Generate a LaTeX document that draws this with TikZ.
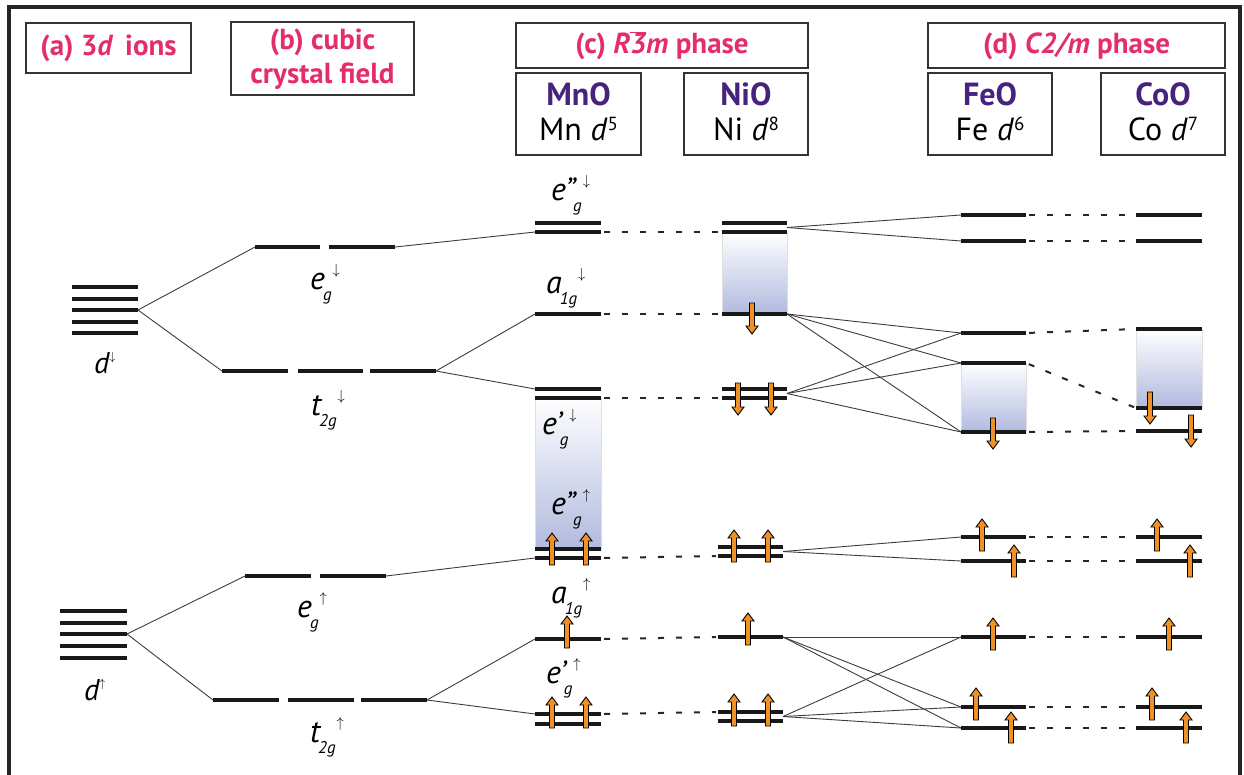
\documentclass[tikz,border=0pt]{standalone}
\usepackage{fontspec}
\setmainfont{PT Sans}
\definecolor{hdr}{RGB}{228,45,110}
\definecolor{cmp}{RGB}{70,35,125}
\definecolor{spin}{RGB}{240,145,40}
\definecolor{shd}{RGB}{176,186,222}
\definecolor{connc}{RGB}{60,60,60}
\tikzset{
  lev/.style={line width=4pt, draw=black!90},
  conn/.style={line width=0.9pt, draw=connc},
  dsh/.style={line width=2pt, draw=black!85, dash pattern=on 6pt off 12pt, shorten <=3pt, shorten >=2pt},
  hbox/.style={draw=black!80, line width=1.6pt},
  arr/.style={fill=spin, draw=black, line width=0.9pt, line join=miter},
  shadebox/.style={top color=white, bottom color=shd, draw=gray!25, line width=0.6pt},
  hdrtxt/.style={font=\fontsize{29}{34}\selectfont\bfseries, text=hdr, inner sep=0pt},
  cmptxt/.style={font=\fontsize{32}{32}\selectfont\bfseries, text=cmp, inner sep=0pt, anchor=base},
  subtxt/.style={font=\fontsize{32}{32}\selectfont, inner sep=0pt, anchor=base},
  lbl/.style={inner sep=0pt, anchor=base west},
}
\newcommand{\spinU}[3]{\filldraw[arr] ({#1-2.5},#2) -- ({#1-2.5},{#3+8}) -- ({#1-6},{#3+8}) -- (#1,#3) -- ({#1+6},{#3+8}) -- ({#1+2.5},{#3+8}) -- ({#1+2.5},#2) -- cycle;}
\newcommand{\spinD}[3]{\filldraw[arr] ({#1-2.5},#2) -- ({#1-2.5},{#3-8}) -- ({#1-6},{#3-8}) -- (#1,#3) -- ({#1+6},{#3-8}) -- ({#1+2.5},{#3-8}) -- ({#1+2.5},#2) -- cycle;}
\newcommand{\lv}[4]{\draw[lev] (#1,#3) coordinate (#4-L) -- (#2,#3) coordinate (#4-R);}
\newcommand{\orb}[3]{\fontsize{32}{32}\selectfont\itshape #1\kern-2pt\raisebox{-11pt}{\fontsize{17}{17}\selectfont #2}\kern1pt\raisebox{15pt}{\fontsize{15}{15}\selectfont$#3$}}
\newcommand{\dlab}[1]{\fontsize{30}{30}\selectfont\itshape d\raisebox{13pt}{\fontsize{12}{12}\selectfont$#1$}}
\newcommand{\sups}[1]{\raisebox{10pt}{\fontsize{19}{19}\selectfont #1}}
\begin{document}
\begin{tikzpicture}[x=1pt,y=-1pt]
\useasboundingbox (0,0) rectangle (1244,774);
% frame
\draw[line width=4pt, draw=black!85] (9,780) -- (9,7) -- (1240,7) -- (1240,780);

% header boxes
\draw[hbox] (26,23) rectangle (191,73);
\draw[hbox] (231,22) rectangle (414,95);
\draw[hbox] (516,23) rectangle (808,68);
\draw[hbox] (516,73) rectangle (641,155);
\draw[hbox] (684,73) rectangle (808,155);
\draw[hbox] (928,23) rectangle (1225,68);
\draw[hbox] (928,73) rectangle (1052,155);
\draw[hbox] (1101,73) rectangle (1225,155);

\node[hdrtxt] (tA) at (108.5,48) {(a) 3\textit{d}\hspace{0.15em} ions};
\node[hdrtxt, align=center] (tB) at (322.5,59) {(b) cubic\\crystal field};
\node[hdrtxt] (tC) at (662,46) {(c) \textit{R}$\overline{\mbox{\itshape 3}}$\textit{m} phase};
\node[hdrtxt] (tD) at (1076.5,46) {(d) \textit{C2/m} phase};

\node[cmptxt] (nMnO) at (578.5,105) {MnO};
\node[subtxt] (sMnO) at (578.5,140) {Mn \textit{d}\sups{5}};
\node[cmptxt] (nNiO) at (746,105) {NiO};
\node[subtxt] (sNiO) at (746,140) {Ni \textit{d}\sups{8}};
\node[cmptxt] (nFeO) at (990,105) {FeO};
\node[subtxt] (sFeO) at (990,140) {Fe \textit{d}\sups{6}};
\node[cmptxt] (nCoO) at (1163,105) {CoO};
\node[subtxt] (sCoO) at (1163,140) {Co \textit{d}\sups{7}};

% shaded gaps
\shadedraw[shadebox] (535,398) rectangle (601,549);
\shadedraw[shadebox] (722,232) rectangle (787,314);
\shadedraw[shadebox] (961,363) rectangle (1026,432);
\shadedraw[shadebox] (1136,329) rectangle (1202,408);

% ---------- levels ----------
% (a) free ion
\foreach \yy in {287,298.5,321.5,333} \draw[lev] (72,\yy) -- (138,\yy);
\draw[lev] (72,310) -- (138,310) coordinate (dD);
\foreach \yy in {611,622.5,646,657.5} \draw[lev] (60,\yy) -- (127,\yy);
\draw[lev] (60,634) -- (127,634) coordinate (dU);
% (b) cubic
\draw[lev] (255,247) coordinate (egD-L) -- (320,247);
\draw[lev] (329,247) -- (395,247) coordinate (egD-R);
\draw[lev] (222,371) coordinate (t2gD-L) -- (288,371);
\draw[lev] (298,371) -- (363,371);
\draw[lev] (370,371) -- (436,371) coordinate (t2gD-R);
\draw[lev] (245,576) coordinate (egU-L) -- (311,576);
\draw[lev] (320,576) -- (386,576) coordinate (egU-R);
\draw[lev] (213,700) coordinate (t2gU-L) -- (279,700);
\draw[lev] (288,700) -- (354,700);
\draw[lev] (361,700) -- (427,700) coordinate (t2gU-R);
% MnO
\lv{535}{601}{223}{mEppDa}\lv{535}{601}{232}{mEppD}
\lv{535}{601}{314}{mA1D}
\lv{535}{601}{389}{mEpD}\lv{535}{601}{398}{mEpDb}
\lv{535}{601}{549}{mEppUa}\lv{535}{601}{558}{mEppU}
\lv{535}{601}{639}{mA1U}
\lv{535}{601}{714}{mEpU}\lv{535}{601}{724}{mEpUb}
% NiO
\lv{722}{787}{223}{nEppDa}\lv{722}{787}{232}{nEppD}
\lv{722}{787}{314}{nA1D}
\lv{722}{787}{389}{nEpD}\lv{722}{787}{398}{nEpDb}
\lv{718}{783}{547}{nEppUa}\lv{718}{783}{556}{nEppU}
\lv{718}{783}{637}{nA1U}
\lv{718}{783}{712}{nEpU}\lv{718}{783}{721}{nEpUb}
\coordinate (nEppDm) at (787,227.5);
\coordinate (nEpDm) at (787,393.5);
\coordinate (nEppUm) at (783,551.5);
\coordinate (nEpUm) at (783,716.5);
% FeO
\lv{961}{1026}{215}{f1}\lv{961}{1026}{241}{f2}
\lv{961}{1026}{333}{f3}\lv{961}{1026}{363}{f4}\lv{961}{1026}{432}{f5}
\lv{961}{1026}{537}{f6}\lv{961}{1026}{561}{f7}
\lv{961}{1026}{637}{f8}
\lv{961}{1026}{707}{f9}\lv{961}{1026}{728}{f10}
% CoO
\lv{1136}{1202}{215}{c1}\lv{1136}{1202}{241}{c2}
\lv{1136}{1202}{329}{c3}\lv{1136}{1202}{408}{c4}\lv{1136}{1202}{431}{c5}
\lv{1136}{1202}{537}{c6}\lv{1136}{1202}{561}{c7}
\lv{1136}{1202}{637}{c8}
\lv{1136}{1202}{707}{c9}\lv{1136}{1202}{728}{c10}

% ---------- correlation lines ----------
\draw[conn] (dD) -- (egD-L);
\draw[conn] (dD) -- (t2gD-L);
\draw[conn] (dU) -- (egU-L);
\draw[conn] (dU) -- (t2gU-L);
\draw[conn] (egD-R) -- (mEppD-L);
\draw[conn] (t2gD-R) -- (mA1D-L);
\draw[conn] (t2gD-R) -- (mEpD-L);
\draw[conn] (egU-R) -- (mEppU-L);
\draw[conn] (t2gU-R) -- (mA1U-L);
\draw[conn] (t2gU-R) -- (mEpU-L);
\draw[conn] (nEppDm) -- (f1-L);
\draw[conn] (nEppDm) -- (f2-L);
\foreach \t in {f3,f4,f5} {\draw[conn] (nA1D-R) -- (\t-L); \draw[conn] (nEpDm) -- (\t-L);}
\draw[conn] (nEppUm) -- (f6-L);
\draw[conn] (nEppUm) -- (f7-L);
\foreach \t in {f8,f9,f10} {\draw[conn] (nA1U-R) -- (\t-L); \draw[conn] (nEpUm) -- (\t-L);}

% dashed
\draw[dsh] (mEppD-R) -- (nEppD-L);
\draw[dsh] (mA1D-R) -- (nA1D-L);
\draw[dsh] (mEpDb-R) -- (nEpDb-L);
\draw[dsh] (mEppU-R) -- (nEppU-L);
\draw[dsh] (mA1U-R) -- (nA1U-L);
\draw[dsh] (mEpU-R) -- (nEpU-L);
\foreach \i in {1,...,10} \draw[dsh] (f\i-R) -- (c\i-L);

% ---------- spins ----------
\spinU{552}{565}{533}\spinU{586}{565}{533}
\spinU{567}{648}{616}
\spinU{552}{728}{697}\spinU{586}{728}{697}
\spinD{752}{303}{334}
\spinD{738}{383}{415}\spinD{771}{383}{415}
\spinU{734}{562}{530}\spinU{768}{562}{530}
\spinU{748}{645}{613}
\spinU{734}{726}{694}\spinU{768}{726}{694}
\spinD{993}{418}{449}
\spinU{982}{551}{519}\spinU{1014}{577}{545}
\spinU{993}{650}{618}
\spinU{976}{720}{688}\spinU{1011}{743}{712}
\spinD{1150}{392}{424}\spinD{1191}{415}{447}
\spinU{1157}{551}{519}\spinU{1190}{577}{545}
\spinU{1169}{650}{618}
\spinU{1152}{720}{688}\spinU{1186}{743}{712}

% ---------- labels ----------
\node[lbl] (ldD) at (94,373) {\dlab{\downarrow}};
\node[lbl] (ldU) at (84,700) {\dlab{\uparrow}};
\node[lbl] (legD) at (310,289) {\orb{e}{g}{\downarrow}};
\node[lbl] (lt2gD) at (311,415) {\orb{t}{2g}{\downarrow}};
\node[lbl] (legU) at (297,617) {\orb{e}{g}{\uparrow}};
\node[lbl] (lt2gU) at (310,742) {\orb{t}{2g}{\uparrow}};
\node[lbl] (leppD) at (551,200) {\orb{e\textquotedblright}{g}{\downarrow}};
\node[lbl] (la1D) at (546,293) {\orb{a}{1g}{\downarrow}};
\node[lbl] (lepD) at (542,434) {\orb{e\textquoteright}{g}{\downarrow}};
\node[lbl] (leppU) at (551,514) {\orb{e\textquotedblright}{g}{\uparrow}};
\node[lbl] (la1U) at (551,603) {\orb{a}{1g}{\uparrow}};
\node[lbl] (lepU) at (546,683) {\orb{e\textquoteright}{g}{\uparrow}};
\end{tikzpicture}
\end{document}
